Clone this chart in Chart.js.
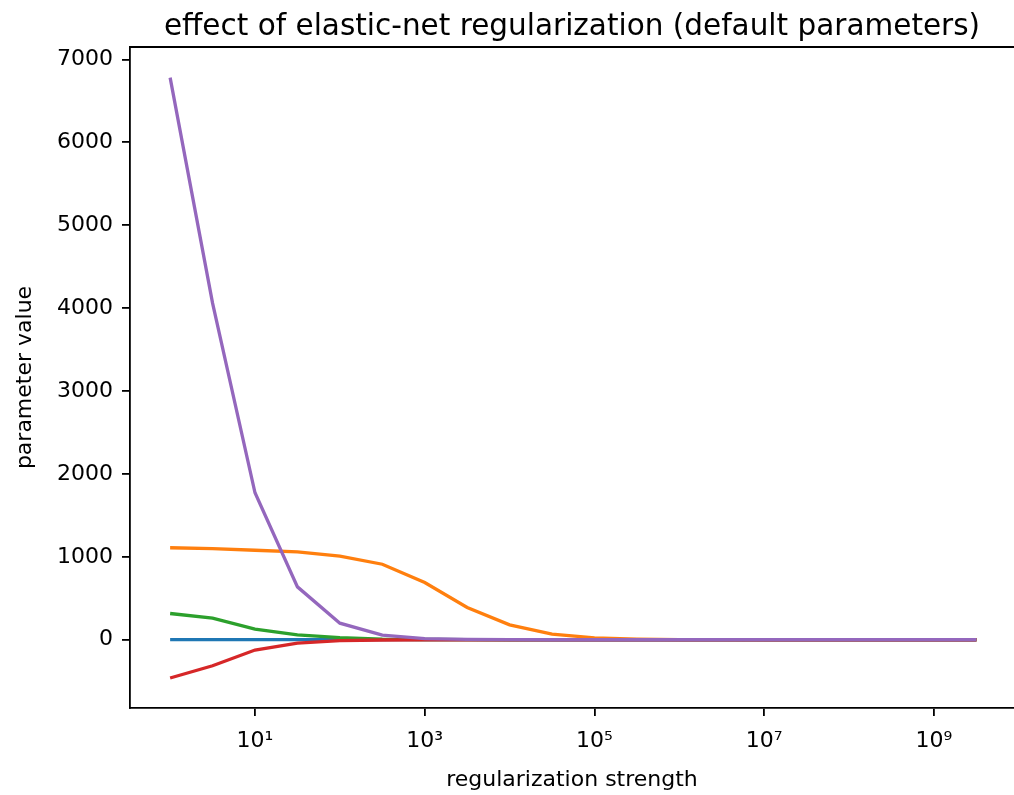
<!DOCTYPE html>
<html lang="en">
  <head>
    <meta charset="UTF-8" />
    <title>effect of elastic-net regularization</title>
    <script src="https://cdn.jsdelivr.net/npm/chart.js@4.4.0/dist/chart.umd.min.js"></script>
    <style>
      html, body { margin: 0; padding: 0; background: #fff; overflow: hidden; }
      canvas { display: block; }
    </style>
  </head>
  <body>
    <canvas id="myChart" width="1014" height="795"></canvas>

    <script>
      // regularization strengths (half-decade steps, 10^0 .. 10^9.5)
      const strengths = [
        1, 3.1623, 10, 31.623, 100, 316.23, 1000, 3162.3, 1e4, 31623,
        1e5, 316230, 1e6, 3162300, 1e7, 31623000, 1e8, 316230000, 1e9, 3162300000,
      ];

      // parameter values
      const param0 = [2, 2, 2, 2, 2, 2, 2, 2, 2, 2, 2, 2, 2, 2, 2, 2, 2, 2, 2, 2];
      const param1 = [1110, 1099, 1080, 1059, 1010, 911, 690, 389, 180, 68, 22, 7, 2, 1, 0, 0, 0, 0, 0, 0];
      const param2 = [317, 261, 128, 60, 25, 8, 3, 1, 0, 0, 0, 0, 0, 0, 0, 0, 0, 0, 0, 0];
      const param3 = [-461, -313, -124, -40, -10, -3, -1, 0, 0, 0, 0, 0, 0, 0, 0, 0, 0, 0, 0, 0];
      const param4 = [6780, 4060, 1773, 638, 200, 56, 15, 4, 1, 0, 0, 0, 0, 0, 0, 0, 0, 0, 0, 0];

      const xTickValues = [10, 1e3, 1e5, 1e7, 1e9];
      const xTickLabels = ["10\u00b9", "10\u00b3", "10\u2075", "10\u2077", "10\u2079"];
      const yTickValues = [0, 1000, 2000, 3000, 4000, 5000, 6000, 7000];

      const seriesList = [param0, param1, param2, param3, param4];
      const colors = ["#1f77b4", "#ff7f0e", "#2ca02c", "#d62728", "#9467bd"];

      const FONT = "'DejaVu Sans', sans-serif";

      const datasets = seriesList.map((vals, i) => ({
        label: "param " + i,
        data: strengths.map((s, j) => ({ x: s, y: vals[j] })),
        borderColor: colors[i],
        backgroundColor: colors[i],
        borderWidth: 3.3,
        pointRadius: 0,
        tension: 0,
        fill: false,
        order: seriesList.length - 1 - i,
      }));

      // top spine; the right spine of the original falls just outside the picture
      const framePlugin = {
        id: "frame",
        afterDatasetsDraw(chart) {
          const { ctx, chartArea } = chart;
          ctx.save();
          ctx.strokeStyle = "#000";
          ctx.lineWidth = 1.8;
          ctx.beginPath();
          ctx.moveTo(chartArea.left, chartArea.top);
          ctx.lineTo(chartArea.right, chartArea.top);
          ctx.stroke();
          ctx.restore();
        },
      };

      const ctx = document.getElementById("myChart").getContext("2d");
      new Chart(ctx, {
        type: "line",
        data: { datasets },
        plugins: [framePlugin],
        options: {
          responsive: false,
          animation: false,
          layout: { padding: 0 },
          plugins: {
            legend: { display: false },
            tooltip: { enabled: false },
            title: {
              display: true,
              fullSize: false,
              align: "center",
              text: "effect of elastic-net regularization (default parameters)",
              color: "#000",
              font: { family: FONT, size: 29.5, weight: "normal" },
              padding: { top: 10, bottom: 1.6 },
            },
          },
          scales: {
            x: {
              type: "logarithmic",
              bounds: "data",
              min: Math.pow(10, -0.4728),
              max: Math.pow(10, 9.9426),
              afterBuildTicks(scale) {
                scale.ticks = xTickValues.map((v) => ({ value: v }));
              },
              afterFit(scale) {
                scale.height = 87;
              },
              ticks: {
                autoSkip: false,
                maxRotation: 0,
                color: "#000",
                padding: 12,
                font: { family: FONT, size: 22 },
                callback: (v) => xTickLabels[xTickValues.indexOf(v)],
              },
              grid: {
                display: true,
                drawOnChartArea: false,
                drawTicks: true,
                tickLength: 8,
                color: "#000",
                lineWidth: 1.8,
              },
              border: { display: true, color: "#000", width: 1.8 },
              title: {
                display: true,
                text: "regularization strength",
                color: "#000",
                font: { family: FONT, size: 22 },
                padding: { top: 0, bottom: 2 },
              },
            },
            y: {
              type: "linear",
              min: -823,
              max: 7150,
              afterBuildTicks(scale) {
                scale.ticks = yTickValues.map((v) => ({ value: v }));
              },
              afterFit(scale) {
                scale.width = 130;
              },
              ticks: {
                color: "#000",
                padding: 9,
                font: { family: FONT, size: 22 },
                callback: (v) => String(v),
              },
              grid: {
                display: true,
                drawOnChartArea: false,
                drawTicks: true,
                tickLength: 8,
                color: "#000",
                lineWidth: 1.8,
              },
              border: { display: true, color: "#000", width: 1.8 },
              title: {
                display: true,
                text: "parameter value",
                color: "#000",
                font: { family: FONT, size: 22 },
                padding: { top: 12, bottom: 0 },
              },
            },
          },
        },
      });
    </script>
  </body>
</html>
